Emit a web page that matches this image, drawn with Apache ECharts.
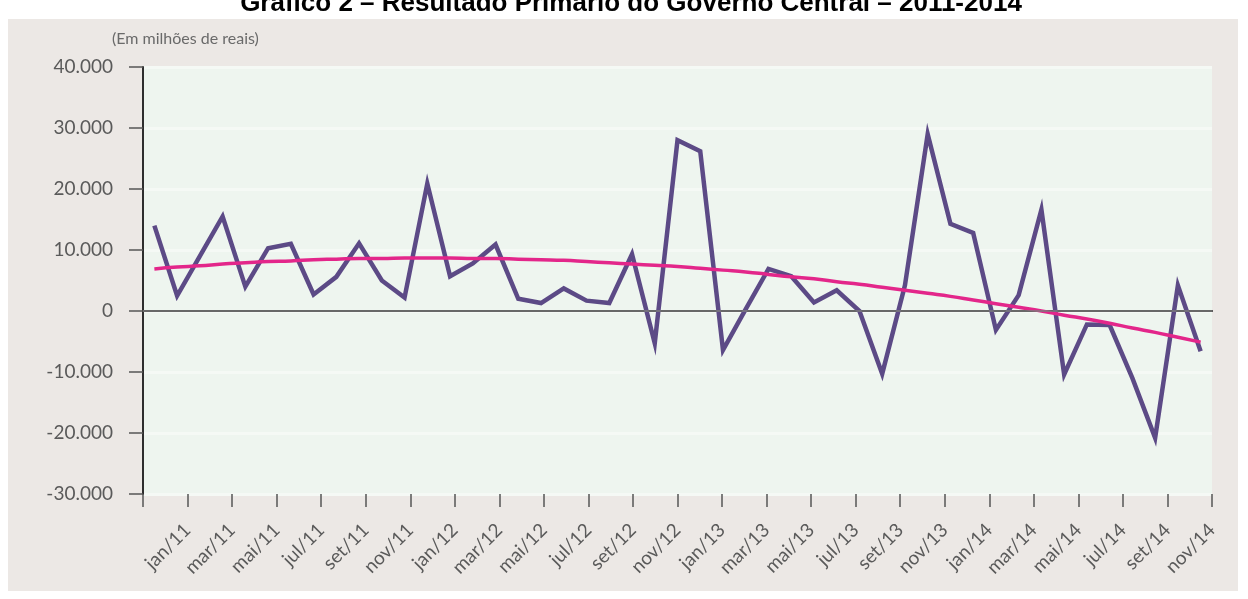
<!DOCTYPE html>
<html lang="pt-BR">
<head>
<meta charset="utf-8">
<title>Resultado Primário do Governo Central – 2011-2014</title>
<script src="https://cdn.jsdelivr.net/npm/echarts@6/dist/echarts.min.js"></script>
<style>
  html, body { margin: 0; padding: 0; background: #ffffff; }
  #grafico { width: 1248px; height: 599px; }
</style>
</head>
<body>
<div id="grafico"></div>
<script>
// Meses da série (jan/2011 a nov/2014)
const meses = [
  'jan/11','fev/11','mar/11','abr/11','mai/11','jun/11','jul/11','ago/11','set/11','out/11','nov/11','dez/11',
  'jan/12','fev/12','mar/12','abr/12','mai/12','jun/12','jul/12','ago/12','set/12','out/12','nov/12','dez/12',
  'jan/13','fev/13','mar/13','abr/13','mai/13','jun/13','jul/13','ago/13','set/13','out/13','nov/13','dez/13',
  'jan/14','fev/14','mar/14','abr/14','mai/14','jun/14','jul/14','ago/14','set/14','out/14','nov/14'
];

// Resultado primário mensal (R$ milhões)
const resultadoPrimario = [
  14000, 2500, 9000, 15500, 4000, 10300, 11000, 2700, 5600, 11100, 5000, 2200,
  20900, 5700, 7800, 10900, 2000, 1300, 3700, 1700, 1300, 9300, -5300, 28000,
  26200, -6400, 300, 6900, 5700, 1400, 3400, 0, -10300, 4200, 29000, 14300,
  12800, -3100, 2600, 16600, -10400, -2200, -2300, -11000, -20800, 4200, -6600
];

// Linha de tendência (R$ milhões)
const tendencia = [
  6900, 7200, 7400, 7700, 7900, 8100, 8200, 8400, 8500, 8600, 8600, 8700,
  8700, 8700, 8600, 8600, 8500, 8400, 8300, 8100, 7900, 7700, 7500, 7300,
  7000, 6700, 6400, 6000, 5600, 5300, 4800, 4400, 3900, 3400, 2900, 2400,
  1800, 1200, 600, 0, -700, -1300, -2000, -2800, -3500, -4300, -5100
];

// Rótulos do eixo horizontal: um a cada dois meses
const rotulosEixoX = meses.filter((m, i) => i % 2 === 0);

// Escala do eixo vertical
const eixoY = { min: -30000, max: 40000, intervalo: 10000 };

const fonteRotulo = 'Lato, "Open Sans", "DejaVu Sans", sans-serif';

function formatarMilhar(v) {
  const sinal = v < 0 ? '-' : '';
  const s = String(Math.abs(v));
  return sinal + s.replace(/\B(?=(\d{3})+(?!\d))/g, '.');
}

const chart = echarts.init(document.getElementById('grafico'), null, { renderer: 'canvas' });

chart.setOption({
  animation: false,
  backgroundColor: '#ffffff',
  graphic: [
    {
      type: 'rect', z: -10,
      shape: { x: 8, y: 19, width: 1230, height: 572 },
      style: { fill: '#ece8e5' }
    },
    {
      type: 'text', z: 10,
      x: 631, y: -9,
      style: {
        text: 'Gráfico 2 – Resultado Primário do Governo Central – 2011-2014',
        fill: '#000000',
        align: 'center',
        verticalAlign: 'top',
        font: 'bold 26px "Liberation Sans", Arial, sans-serif'
      }
    },
    {
      type: 'text', z: 10,
      x: 112, y: 39,
      style: {
        text: '(Em milhões de reais)',
        fill: '#6a6a6a',
        font: '16px ' + fonteRotulo,
        verticalAlign: 'middle'
      }
    }
  ],
  grid: {
    left: 143, right: 36, top: 67, bottom: 105,
    show: true,
    backgroundColor: '#eef5ef',
    borderWidth: 0
  },
  xAxis: [
    {
      type: 'category',
      data: meses,
      boundaryGap: true,
      axisLine: { show: true, lineStyle: { color: '#2e2e2e', width: 2 } },
      axisTick: { show: false },
      axisLabel: { show: false },
      splitLine: { show: false }
    },
    {
      type: 'value',
      position: 'bottom',
      min: 0, max: rotulosEixoX.length, interval: 1,
      axisLine: { show: false },
      axisTick: { show: true, length: 13, lineStyle: { color: '#555555', width: 1.5 } },
      splitLine: { show: false },
      axisLabel: {
        show: true,
        rotate: 45,
        margin: 33,
        color: '#5a5a5a',
        fontSize: 19,
        fontFamily: fonteRotulo,
        showMinLabel: true,
        showMaxLabel: true,
        formatter: (v) => (v >= 1 ? (rotulosEixoX[v - 1] || '') : '')
      }
    }
  ],
  yAxis: {
    type: 'value',
    min: eixoY.min, max: eixoY.max, interval: eixoY.intervalo,
    axisLine: { show: true, lineStyle: { color: '#2e2e2e', width: 2 } },
    axisTick: { show: true, length: 14, lineStyle: { color: '#555555', width: 1.5 } },
    axisLabel: {
      margin: 30,
      color: '#5a5a5a',
      fontSize: 19,
      fontFamily: fonteRotulo,
      formatter: formatarMilhar
    },
    splitLine: { show: true, lineStyle: { color: '#f5f9f5', width: 3 } }
  },
  series: [
    {
      name: 'Linha do zero',
      type: 'line',
      data: [],
      silent: true,
      z: 1,
      markLine: {
        silent: true,
        symbol: ['none', 'none'],
        label: { show: false },
        lineStyle: { color: '#7c7c7c', width: 1.5, type: 'solid' },
        data: [{ yAxis: 0 }]
      }
    },
    {
      name: 'Resultado primário',
      type: 'line',
      data: resultadoPrimario,
      symbol: 'none',
      z: 3,
      lineStyle: { color: '#5c4a86', width: 4.5, join: 'miter', miterLimit: 10 }
    },
    {
      name: 'Tendência',
      type: 'line',
      data: tendencia,
      symbol: 'none',
      smooth: true,
      z: 4,
      lineStyle: { color: '#e3268a', width: 3.5 }
    }
  ]
});
</script>
</body>
</html>
